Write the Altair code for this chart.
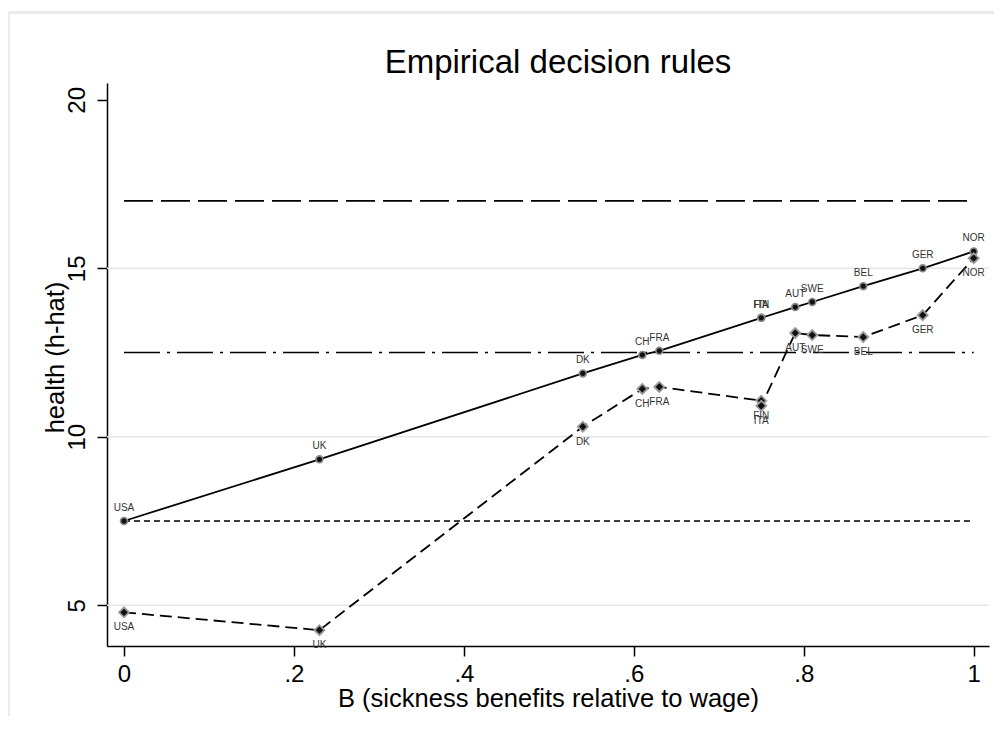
import altair as alt
import pandas as pd

# ---- data ----
countries = ["USA", "UK", "DK", "CH", "FRA", "FIN", "ITA", "AUT", "SWE", "BEL", "GER", "NOR"]
benefit = [0.0, 0.23, 0.54, 0.61, 0.63, 0.75, 0.75, 0.79, 0.81, 0.87, 0.94, 1.0]
h_rule = [7.5, 9.33, 11.88, 12.43, 12.55, 13.53, 13.53, 13.85, 14.0, 14.47, 15.0, 15.5]
h_emp = [4.79, 4.26, 10.3, 11.42, 11.48, 11.07, 10.92, 13.08, 13.02, 12.96, 13.61, 15.3]

ref_names = ["top", "mid", "low"]
ref_values = [17.0, 12.5, 7.5]
ref_x0 = [0.0, 0.0, 0.0]
ref_x1 = [1.0, 1.0, 1.0]

grid_values = [5, 10, 15]
x_ticks = [0, 0.2, 0.4, 0.6, 0.8, 1.0]
y_ticks = [5, 10, 15, 20]

df = pd.DataFrame({"country": countries, "B": benefit, "rule": h_rule, "emp": h_emp,
                   "order": list(range(len(countries)))})
refs = pd.DataFrame({"name": ref_names, "h": ref_values, "x0": ref_x0, "x1": ref_x1})
grid = pd.DataFrame({"h": grid_values})

W, H = 882, 563
FONT = "Liberation Sans"

xscale = alt.Scale(domain=[-0.02, 1.018], nice=False, zero=False)
yscale = alt.Scale(domain=[3.79, 20.5], nice=False, zero=False)

x_axis = alt.Axis(values=x_ticks, grid=False, domainColor="black", domainWidth=1.5,
                  tickColor="black", tickSize=10, tickWidth=1.5,
                  labelExpr="datum.value == 0 ? '0' : (datum.value == 1 ? '1' : replace(format(datum.value, '.1f'), '0.', '.'))",
                  labelFontSize=24, labelFont=FONT, labelColor="black", labelPadding=6,
                  title="B (sickness benefits relative to wage)", titleFont=FONT,
                  titleFontSize=25.5, titleFontWeight="normal", titleColor="black", titlePadding=0)
y_axis = alt.Axis(values=y_ticks, grid=False, domainColor="black", domainWidth=1.5,
                  tickColor="black", tickSize=10, tickWidth=1.5,
                  labelAngle=270, labelAlign="center", labelBaseline="bottom",
                  labelFontSize=24, labelFont=FONT, labelColor="black", labelPadding=8,
                  title="health (h-hat)", titleFont=FONT, titleFontSize=25.5,
                  titleFontWeight="normal", titleColor="black", titlePadding=-3,
                  titleY=274)

base = alt.Chart(df)

frame_top = alt.Chart(grid).mark_rule(color="#ebebeb", strokeWidth=3).encode(
    x=alt.value(-99), x2=alt.value(W + 10), y=alt.value(-70.5))
frame_left = alt.Chart(grid).mark_rule(color="#ebebeb", strokeWidth=3).encode(
    x=alt.value(-98.5), y=alt.value(-72), y2=alt.value(H + 80))

grid_layer = alt.Chart(grid).mark_rule(color="#e6e6e6", strokeWidth=1.5).encode(
    y=alt.Y("h:Q", scale=yscale, axis=y_axis))

dashes = {"top": [29, 8], "mid": [36, 7, 3, 7], "low": [6, 4]}
ref_layers = []
for nm in ref_names:
    ref_layers.append(
        alt.Chart(refs).transform_filter(alt.datum.name == nm)
        .mark_rule(color="black", strokeWidth=1.6, strokeDash=dashes[nm])
        .encode(x=alt.X("x0:Q", scale=xscale, axis=x_axis), x2="x1:Q",
                y=alt.Y("h:Q", scale=yscale, axis=y_axis))
    )

X = alt.X("B:Q", scale=xscale, axis=x_axis)

rule_line = base.mark_line(color="black", strokeWidth=1.8).encode(
    x=X, y=alt.Y("rule:Q", scale=yscale, axis=y_axis), order="order:Q")
rule_pts = base.mark_point(shape="circle", filled=True, size=48, fill="#111111",
                           stroke="#8a8a8a", strokeWidth=1.6, opacity=1).encode(
    x=X, y=alt.Y("rule:Q", scale=yscale, axis=y_axis))
rule_lbl = base.mark_text(dy=-13, fontSize=10, font=FONT, color="#333333").encode(
    x=X, y=alt.Y("rule:Q", scale=yscale, axis=y_axis), text="country:N")

emp_line = base.mark_line(color="black", strokeWidth=1.8, strokeDash=[12, 6]).encode(
    x=X, y=alt.Y("emp:Q", scale=yscale, axis=y_axis), order="order:Q")
emp_pts = base.mark_point(shape="diamond", filled=True, size=100, fill="#111111",
                          stroke="#9a9a9a", strokeWidth=1.8, opacity=1).encode(
    x=X, y=alt.Y("emp:Q", scale=yscale, axis=y_axis))
emp_lbl = base.mark_text(dy=15, fontSize=10, font=FONT, color="#333333").encode(
    x=X, y=alt.Y("emp:Q", scale=yscale, axis=y_axis), text="country:N")

chart = alt.layer(
    frame_top, frame_left, grid_layer, *ref_layers,
    rule_line, emp_line, rule_pts, emp_pts, rule_lbl, emp_lbl
).properties(
    width=W, height=H,
    title=alt.TitleParams("Empirical decision rules", font=FONT, fontSize=33,
                          fontWeight="normal", color="black", anchor="middle",
                          dx=10, dy=76, offset=6),
    autosize=alt.AutoSizeParams(type="none"),
    padding={"left": 99, "top": 75, "right": 5, "bottom": 70},
    background="white",
).configure_view(stroke=None)

chart.save("out.html", embed_options={"renderer": "svg", "actions": False})
